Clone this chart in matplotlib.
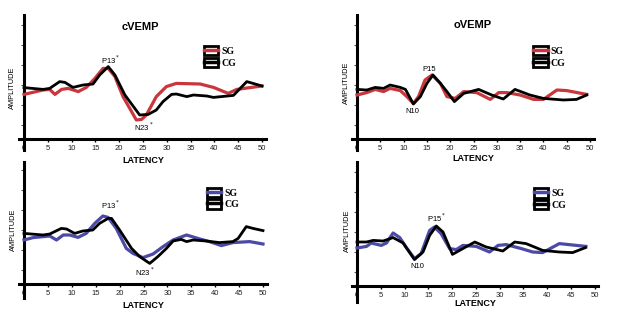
import matplotlib
matplotlib.use("Agg")
import matplotlib.pyplot as plt
from matplotlib.lines import Line2D
from matplotlib.patches import Patch
from matplotlib.legend_handler import HandlerTuple

plt.rcParams['font.family'] = ['Liberation Sans', 'DejaVu Sans']

RED = '#c9373d'
BLUE = '#4b4aa6'

# --- cVEMP, SG vs CG (top left) ---
c1_sg_x = [0, 4, 5.4, 6.5, 7.9, 9.3, 11.4, 13.1, 14.9, 16.6, 17.7, 19.1, 20.8, 22.6, 23.6, 24.7,
           25.7, 27.8, 29.9, 32.0, 37.0, 39.8, 42.9, 44.7, 47.5, 50]
c1_sg_y = [2.23, 2.45, 2.48, 2.23, 2.48, 2.53, 2.37, 2.58, 3.03, 3.53, 3.53, 3.12, 2.12, 1.37, 0.95, 0.98,
           1.2, 2.12, 2.62, 2.78, 2.75, 2.58, 2.28, 2.48, 2.57, 2.65]
c1_cg_x = [0, 4, 5.4, 7.5, 8.6, 10.3, 12.4, 14.5, 15.9, 17.7, 19.1, 21.2, 23.0, 24.3, 26.1, 27.8,
           29.2, 31.0, 32.0, 34.2, 35.6, 38.4, 39.8, 44.0, 46.8, 50]
c1_cg_y = [2.57, 2.48, 2.53, 2.87, 2.83, 2.58, 2.7, 2.75, 3.2, 3.62, 3.2, 2.2, 1.62, 1.2, 1.23, 1.45,
           1.87, 2.23, 2.25, 2.12, 2.2, 2.15, 2.08, 2.18, 2.87, 2.65]

# --- oVEMP, SG vs CG (top right) ---
o1_sg_x = [0, 2.1, 3.9, 5.7, 7.1, 9.3, 10.7, 12.1, 13.2, 14.6, 16.1, 17.9, 19.3, 21.1, 22.9, 25.7,
           28.6, 30.4, 32.1, 35.0, 37.9, 40.0, 42.9, 45.0, 49.3]
o1_sg_y = [2.2, 2.32, 2.48, 2.37, 2.53, 2.42, 2.12, 1.78, 2.12, 2.95, 3.2, 2.78, 2.12, 2.03, 2.37, 2.32,
           1.98, 2.32, 2.32, 2.2, 1.98, 1.98, 2.45, 2.42, 2.23]
o1_cg_x = [0, 2.1, 3.9, 5.7, 7.1, 9.3, 10.4, 12.1, 13.6, 15.0, 16.3, 17.9, 19.3, 20.9, 22.9, 26.1,
           28.9, 31.4, 33.9, 37.1, 40.0, 44.3, 47.1, 49.3]
o1_cg_y = [2.48, 2.45, 2.58, 2.53, 2.7, 2.58, 2.48, 1.75, 2.12, 2.78, 3.2, 2.78, 2.37, 1.87, 2.28, 2.48,
           2.2, 2.0, 2.48, 2.2, 2.03, 1.95, 1.98, 2.2]

# --- cVEMP, SG vs CG (bottom left) ---
c2_sg_x = [0, 1.9, 5.4, 6.8, 8.2, 9.6, 11.3, 13.0, 14.8, 16.5, 17.6, 19.3, 21.4, 22.8, 24.9, 27.0,
           29.1, 31.2, 34.0, 36.8, 38.8, 41.3, 43.7, 47.2, 50]
c2_sg_y = [2.2, 2.32, 2.4, 2.2, 2.45, 2.45, 2.33, 2.53, 3.03, 3.4, 3.33, 2.78, 1.78, 1.53, 1.32, 1.5,
           1.87, 2.2, 2.45, 2.25, 2.12, 1.92, 2.07, 2.12, 2.0]
c2_cg_x = [0, 4, 5.4, 7.8, 8.9, 10.6, 12.3, 14.4, 15.8, 17.6, 18.3, 20.0, 22.5, 24.2, 26.3, 28.0,
           29.8, 31.2, 32.9, 34.0, 35.4, 38.1, 40.9, 43.7, 44.8, 46.5, 47.9, 50]
c2_cg_y = [2.53, 2.45, 2.5, 2.78, 2.75, 2.53, 2.65, 2.7, 3.03, 3.28, 3.28, 2.7, 1.78, 1.37, 1.03, 1.37,
           1.78, 2.15, 2.23, 2.12, 2.2, 2.15, 2.07, 2.12, 2.28, 2.87, 2.78, 2.67]

# --- oVEMP, SG vs CG (bottom right) ---
o2_sg_x = [0, 2, 3, 5.1, 6.2, 7.6, 9.0, 10.4, 12.1, 13.5, 15.3, 16.3, 17.7, 19.5, 20.9, 22.3, 25.1,
           27.9, 29.7, 31.4, 34.6, 37.0, 39.1, 42.6, 48.2]
o2_sg_y = [1.9, 1.98, 2.15, 2.03, 2.15, 2.65, 2.42, 1.92, 1.37, 1.62, 2.78, 2.95, 2.62, 1.87, 1.82, 2.03, 1.98,
           1.7, 2.03, 2.07, 1.87, 1.7, 1.67, 2.12, 1.98]
o2_cg_x = [0, 2, 3.4, 5.5, 7.6, 9.7, 12.1, 13.9, 15.3, 16.7, 18.1, 20.1, 21.6, 24.8, 27.2, 30.7,
           33.2, 35.6, 39.1, 42.6, 45.4, 48.1]
o2_cg_y = [2.2, 2.2, 2.28, 2.25, 2.42, 2.15, 1.32, 1.7, 2.53, 3.0, 2.7, 1.58, 1.78, 2.2, 1.95, 1.75,
           2.2, 2.12, 1.78, 1.7, 1.67, 1.92]

xticks = list(range(0, 51, 5))
yticks = [0.7, 1.7, 2.7, 3.7, 4.7, 5.7]

W, H = 622, 321
fig = plt.figure(figsize=(W / 100, H / 100), dpi=100)
fig.patch.set_facecolor('white')


def make_axes(yaxis_px, px_per_unit, xaxis_px, xmin, xmax, ymin, ymax):
    left = yaxis_px + xmin * px_per_unit
    right = yaxis_px + xmax * px_per_unit
    top = xaxis_px - ymax * 20
    bottom = xaxis_px - ymin * 20
    ax = fig.add_axes([left / W, 1 - bottom / H, (right - left) / W, (bottom - top) / H])
    ax.set_xlim(xmin, xmax)
    ax.set_ylim(ymin, ymax)
    ax.spines['top'].set_visible(False)
    ax.spines['right'].set_visible(False)
    ax.spines['bottom'].set_position(('data', 0))
    ax.spines['left'].set_position(('data', 0))
    ax.spines['bottom'].set_linewidth(2.2)
    ax.spines['left'].set_linewidth(2.2)
    ax.set_xticks(xticks)
    ax.set_xticklabels([str(t) for t in xticks], fontsize=5.5, color='#222222')
    ax.set_yticks(yticks)
    ax.set_yticklabels([])
    ax.tick_params(axis='x', direction='out', length=2, width=1, pad=2)
    ax.tick_params(axis='y', direction='out', length=2.5, width=0.8, color='#555555')
    ax.patch.set_alpha(0)
    return ax


def decorate(ax, title, line_color, sg_x, sg_y, cg_x, cg_y, xlab_y, amp_x, amp_y, leg_pos):
    ax.plot(sg_x, sg_y, color=line_color, lw=2.3, solid_joinstyle='round', zorder=3)
    ax.plot(cg_x, cg_y, color='black', lw=2.0, solid_joinstyle='round', zorder=4)
    if title:
        ax.text(title[1], title[2], title[0], fontsize=8, fontweight='bold', ha='center', va='center')
    ax.text(25, xlab_y, 'LATENCY', fontsize=6.5, fontweight='bold', ha='center', va='center',
            clip_on=False)
    ax.text(amp_x, amp_y, 'AMPLITUDE', fontsize=5.3, rotation=90, ha='center', va='center',
            clip_on=False)
    sg_h = (Patch(facecolor='white', edgecolor='black', linewidth=2.0),
            Line2D([], [], color=line_color, lw=2.5))
    cg_h = (Patch(facecolor='white', edgecolor='black', linewidth=2.0),
            Line2D([], [], color='black', lw=2.5))
    ax.legend([sg_h, cg_h], ['SG', 'CG'], handler_map={tuple: HandlerTuple(ndivide=1)},
              loc='upper left', bbox_to_anchor=leg_pos, frameon=False,
              prop={'family': 'Liberation Serif', 'weight': 'bold', 'size': 7},
              handlelength=1.5, handleheight=1.1, handletextpad=0.3, labelspacing=0.15,
              borderpad=0.2)


# top left
ax1 = make_axes(24, 4.76, 139, -1, 50.8, -0.55, 6.2)
decorate(ax1, ('cVEMP', 24.4, 5.6), RED, c1_sg_x, c1_sg_y, c1_cg_x, c1_cg_y,
         -1.05, -2.5, 2.55, (0.72, 0.82))
ax1.text(18.1, 3.95, 'P13$^*$', fontsize=5.5, ha='center', va='center')
ax1.text(25.2, 0.6, 'N23$^*$', fontsize=5.5, ha='center', va='center')

# top right
ax2 = make_axes(357, 4.66, 139, -1, 50.8, -0.55, 6.2)
decorate(ax2, ('oVEMP', 24.9, 5.7), RED, o1_sg_x, o1_sg_y, o1_cg_x, o1_cg_y,
         -0.95, -2.2, 2.8, (0.72, 0.82))
ax2.text(15.5, 3.5, 'P15', fontsize=5.5, ha='center', va='center')
ax2.text(11.8, 1.4, 'N10', fontsize=5.5, ha='center', va='center')

# bottom left
ax3 = make_axes(24, 4.78, 284, -1, 50.8, -0.7, 6.1)
decorate(ax3, None, BLUE, c2_sg_x, c2_sg_y, c2_cg_x, c2_cg_y,
         -1.05, -2.3, 2.7, (0.73, 0.86))
ax3.text(18.1, 3.95, 'P13$^*$', fontsize=5.5, ha='center', va='center')
ax3.text(25.3, 0.6, 'N23$^*$', fontsize=5.5, ha='center', va='center')

# bottom right
ax4 = make_axes(357, 4.75, 286, -1, 50.8, -0.8, 6.2)
decorate(ax4, None, BLUE, o2_sg_x, o2_sg_y, o2_cg_x, o2_cg_y,
         -0.9, -2.1, 2.75, (0.71, 0.86))
ax4.text(16.8, 3.4, 'P15$^*$', fontsize=5.5, ha='center', va='center')
ax4.text(12.6, 0.95, 'N10', fontsize=5.5, ha='center', va='center')

fig.savefig('out.png', dpi=100, facecolor='white')
